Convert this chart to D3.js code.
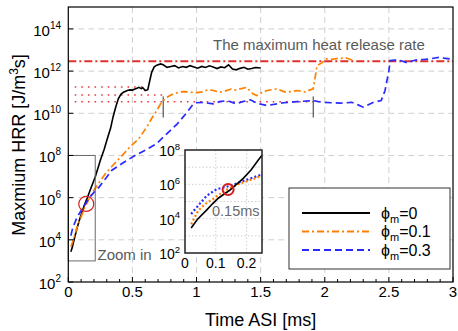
<!DOCTYPE html>
<html><head><meta charset="utf-8">
<script src="https://cdn.jsdelivr.net/npm/d3@7"></script>
<style>body{margin:0;background:#fff}svg{display:block;font-family:"Liberation Sans",Arial,Helvetica,sans-serif}</style>
</head><body><svg id="c" width="458" height="331"></svg>
<script>
// ---- data (time in ms, HRR given as log10 exponent) ----
const xTicks = [0, 0.5, 1, 1.5, 2, 2.5, 3];
const yTickExp = [2, 4, 6, 8, 10, 12, 14];
const legendValues = ["0", "0.1", "0.3"];
const seriesColors = ["#000000", "#ff8000", "#2a2aff"];
const blackData = [[0.02,3.43],[0.03,3.62],[0.05,4.12],[0.07,4.6],[0.09,5.0],[0.11,5.38],[0.13,5.72],[0.15,6.02],[0.17,6.35],[0.21,6.98],[0.25,7.77],[0.28,8.3],[0.3,8.71],[0.33,9.3],[0.35,9.85],[0.37,10.3],[0.39,10.69],[0.41,10.9],[0.43,11.0],[0.46,11.08],[0.48,11.11],[0.5,11.1],[0.52,11.15],[0.54,11.2],[0.55,11.23],[0.57,11.17],[0.58,11.22],[0.6,11.08],[0.62,11.12],[0.63,11.4],[0.65,11.94],[0.67,12.2],[0.69,12.28],[0.72,12.34],[0.74,12.3],[0.77,12.18],[0.8,12.22],[0.83,12.26],[0.86,12.15],[0.89,12.22],[0.92,12.18],[0.95,12.26],[0.98,12.2],[1.01,12.14],[1.04,12.22],[1.07,12.17],[1.1,12.25],[1.13,12.19],[1.16,12.12],[1.19,12.2],[1.22,12.16],[1.25,12.3],[1.28,12.1],[1.31,12.06],[1.34,12.13],[1.37,12.18],[1.4,12.09],[1.43,12.12],[1.46,12.17],[1.5,12.15]];
const orangeData = [[0.02,3.67],[0.04,4.0],[0.065,4.55],[0.09,4.93],[0.13,5.56],[0.16,5.92],[0.2,6.35],[0.25,6.8],[0.29,7.14],[0.35,7.55],[0.42,8.0],[0.48,8.4],[0.51,8.57],[0.55,8.8],[0.61,9.33],[0.65,9.75],[0.69,10.13],[0.72,10.45],[0.74,10.6],[0.78,10.8],[0.82,10.92],[0.86,11.0],[0.9,11.03],[0.95,11.0],[1.0,10.98],[1.05,11.02],[1.09,11.12],[1.13,11.08],[1.18,11.0],[1.22,11.05],[1.27,11.15],[1.3,11.1],[1.34,11.16],[1.39,11.23],[1.42,11.05],[1.44,10.92],[1.47,10.84],[1.51,10.98],[1.55,11.08],[1.59,11.12],[1.63,11.16],[1.67,11.05],[1.7,11.0],[1.74,11.03],[1.78,11.08],[1.82,11.04],[1.85,11.0],[1.88,11.1],[1.91,11.16],[1.925,11.7],[1.94,12.26],[1.98,12.4],[2.01,12.58],[2.06,12.56],[2.1,12.6],[2.17,12.62],[2.22,12.5]];
const blueData = [[0.02,4.2],[0.03,4.46],[0.05,4.8],[0.07,5.09],[0.11,5.48],[0.16,5.96],[0.2,6.25],[0.24,6.5],[0.29,6.9],[0.34,7.3],[0.39,7.5],[0.44,7.7],[0.52,8.0],[0.6,8.25],[0.69,8.57],[0.77,9.04],[0.85,9.5],[0.92,10.0],[0.97,10.4],[1.0,10.5],[1.05,10.52],[1.09,10.48],[1.13,10.45],[1.18,10.55],[1.24,10.6],[1.31,10.45],[1.36,10.55],[1.42,10.64],[1.47,10.48],[1.51,10.42],[1.55,10.37],[1.63,10.45],[1.68,10.5],[1.73,10.52],[1.78,10.55],[1.83,10.57],[1.91,10.6],[1.95,10.55],[1.99,10.52],[2.05,10.5],[2.12,10.48],[2.17,10.5],[2.21,10.52],[2.26,10.4],[2.3,10.29],[2.34,10.4],[2.38,10.52],[2.44,10.6],[2.47,11.08],[2.5,12.02],[2.51,12.5],[2.55,12.52],[2.59,12.5],[2.65,12.38],[2.68,12.48],[2.72,12.53],[2.77,12.55],[2.82,12.58],[2.86,12.62],[2.9,12.66],[2.94,12.6],[2.98,12.58],[3.0,12.6]];
// inset (zoom on 0-0.25 ms)
const insetXTicks = [0, 0.1, 0.2];
const insetYTickExp = [2, 4, 6, 8];
const insetBlack = [[0.02,3.46],[0.04,3.95],[0.07,4.5],[0.09,4.88],[0.108,5.19],[0.146,5.67],[0.19,6.36],[0.215,6.85],[0.238,7.42],[0.25,7.7]];
const insetOrange = [[0.02,3.67],[0.043,4.47],[0.065,4.85],[0.092,5.16],[0.13,5.66],[0.179,6.05],[0.222,6.31],[0.25,6.5]];
const insetBlue = [[0.02,4.27],[0.038,4.66],[0.07,5.33],[0.103,5.72],[0.146,5.91],[0.19,6.2],[0.25,6.58]];
// annotations
const maxHRRExp = 12.47;               // maximum heat release rate level
const plateauLevels = [[0.05,0.58,11.25],[0.05,0.74,10.87],[0.05,1.91,10.55]]; // [t0,t1,exp]
const markerTimes = [0.74, 1.91];
const markerRange = [9.8, 10.8];
const crossPoint = [0.14, 5.7];
const zoomBox = [0, 0.21, 3, 8];        // t0,t1,exp0,exp1

const P = v => Math.pow(10, v);
const svg = d3.select("#c");
const m = {l: 68.3, r: 453, t: 7, b: 282};
const x = d3.scaleLinear().domain([0, 3]).range([m.l, m.r]);
const y = d3.scaleLog().domain([1e2, P(15.04)]).range([m.b, m.t]);

// grid
const g = svg.append("g");
g.selectAll(".vg").data(xTicks.filter(t => t > 0 && t < 3)).join("line")
  .attr("x1", d => x(d)).attr("x2", d => x(d)).attr("y1", m.t).attr("y2", m.b)
  .attr("stroke", "#cfcfcf").attr("stroke-dasharray", "6,4");
g.selectAll(".hg").data(yTickExp.filter(e => e > 2)).join("line")
  .attr("x1", m.l).attr("x2", m.r).attr("y1", d => y(P(d))).attr("y2", d => y(P(d)))
  .attr("stroke", "#cfcfcf").attr("stroke-dasharray", "6,4");

// red dotted plateau lines
svg.selectAll(".pl").data(plateauLevels).join("line")
  .attr("x1", d => x(d[0])).attr("x2", d => x(d[1])).attr("y1", d => y(P(d[2]))).attr("y2", d => y(P(d[2])))
  .attr("stroke", "#e83a3a").attr("stroke-width", 1.6).attr("stroke-dasharray", "1.6,5");
// markers
svg.selectAll(".mk").data(markerTimes).join("line")
  .attr("x1", d => x(d)).attr("x2", d => x(d)).attr("y1", y(P(markerRange[0]))).attr("y2", y(P(markerRange[1])))
  .attr("stroke", "#333").attr("stroke-width", 1);
// max HRR line
svg.append("line").attr("x1", m.l).attr("x2", m.r).attr("y1", y(P(maxHRRExp))).attr("y2", y(P(maxHRRExp)))
  .attr("stroke", "#e0302a").attr("stroke-width", 2).attr("stroke-dasharray", "8,3,2,3");
svg.append("text").attr("x", 213).attr("y", 49.5).attr("font-size", 15).attr("fill", "#5a5a5a")
  .text("The maximum heat release rate");

// curves
const line = d3.line().x(d => x(d[0])).y(d => y(P(d[1])));
const styles = [
  {data: blackData, c: seriesColors[0], dash: null, w: 1.6},
  {data: orangeData, c: seriesColors[1], dash: "7,3,2,3", w: 1.7},
  {data: blueData, c: seriesColors[2], dash: "7,4", w: 1.7}
];
styles.forEach(s => {
  svg.append("path").datum(s.data).attr("d", line).attr("fill", "none")
    .attr("stroke", s.c).attr("stroke-width", s.w).attr("stroke-dasharray", s.dash);
});

// zoom box
svg.append("rect").attr("x", x(zoomBox[0])).attr("y", y(P(zoomBox[3])))
  .attr("width", x(zoomBox[1]) - x(zoomBox[0])).attr("height", y(P(zoomBox[2])) - y(P(zoomBox[3])))
  .attr("fill", "none").attr("stroke", "#6a6a6a").attr("stroke-width", 1);
svg.append("text").attr("x", 97.5).attr("y", 260).attr("font-size", 15).attr("fill", "#5a5a5a").text("Zoom in");
svg.append("circle").attr("cx", x(crossPoint[0])).attr("cy", y(P(crossPoint[1]))).attr("r", 7.5)
  .attr("fill", "none").attr("stroke", "#d62020").attr("stroke-width", 1.2);

// axes box
svg.append("rect").attr("x", m.l).attr("y", m.t).attr("width", m.r - m.l).attr("height", m.b - m.t)
  .attr("fill", "none").attr("stroke", "#000").attr("stroke-width", 1.2);
// ticks
const minorX = d3.range(1, 30).map(i => i / 10).filter(t => Math.abs(t * 2 - Math.round(t * 2)) > 1e-6);
svg.selectAll(".xt").data(xTicks).join("line").attr("x1", d => x(d)).attr("x2", d => x(d))
  .attr("y1", m.b).attr("y2", m.b - 5).attr("stroke", "#000");
svg.selectAll(".xmt").data(minorX).join("line").attr("x1", d => x(d)).attr("x2", d => x(d))
  .attr("y1", m.b).attr("y2", m.b - 3).attr("stroke", "#000");
svg.selectAll(".yt").data(yTickExp).join("line").attr("x1", m.l).attr("x2", m.l + 5)
  .attr("y1", d => y(P(d))).attr("y2", d => y(P(d))).attr("stroke", "#000");
svg.selectAll(".xl").data(xTicks).join("text").attr("x", d => x(d)).attr("y", 297)
  .attr("text-anchor", "middle").attr("font-size", 15).text(d => d3.format("~g")(d));
const yl = svg.selectAll(".yl").data(yTickExp).join("text").attr("x", 61).attr("y", d => y(P(d)) + 7)
  .attr("text-anchor", "end").attr("font-size", 15);
yl.append("tspan").text("10");
yl.append("tspan").attr("dy", -7).attr("font-size", 10).text(d => d);

// axis titles
svg.append("text").attr("x", (m.l + m.r) / 2).attr("y", 326).attr("text-anchor", "middle")
  .attr("font-size", 18).text("Time ASI [ms]");
const yt = svg.append("text").attr("transform", "translate(25,145) rotate(-90)").attr("text-anchor", "middle")
  .attr("font-size", 18);
yt.append("tspan").text("Maxmium HRR [J/m");
yt.append("tspan").attr("dy", -7).attr("font-size", 12).text("3");
yt.append("tspan").attr("dy", 7).text("s]");

// legend
const lg = svg.append("g");
lg.append("rect").attr("x", 289).attr("y", 188).attr("width", 161).attr("height", 81)
  .attr("fill", "#fff").attr("stroke", "#333").attr("stroke-width", 1);
styles.forEach((s, i) => {
  const yy = 213 + i * 18.5;
  lg.append("line").attr("x1", 302).attr("x2", 370).attr("y1", yy).attr("y2", yy)
    .attr("stroke", s.c).attr("stroke-width", 1.8).attr("stroke-dasharray", s.dash);
  const t = lg.append("text").attr("x", 381).attr("y", yy + 5.5).attr("font-size", 16);
  t.append("tspan").text("ϕ");
  t.append("tspan").attr("dy", 4).attr("font-size", 11).text("m");
  t.append("tspan").attr("dy", -4).text("=" + legendValues[i]);
});

// inset
const ix = d3.scaleLinear().domain([0, 0.25]).range([185, 262]);
const iy = d3.scaleLog().domain([1e2, 1e8]).range([253, 150]);
const ig = svg.append("g");
ig.append("rect").attr("x", 185).attr("y", 150).attr("width", 77).attr("height", 103).attr("fill", "#fff");
ig.selectAll(".ivg").data([0.1, 0.2]).join("line").attr("x1", d => ix(d)).attr("x2", d => ix(d))
  .attr("y1", 150).attr("y2", 253).attr("stroke", "#cfcfcf").attr("stroke-dasharray", "1.5,2");
ig.selectAll(".ihg").data([3, 4, 5, 6, 7]).join("line").attr("x1", 185).attr("x2", 262)
  .attr("y1", d => iy(P(d))).attr("y2", d => iy(P(d))).attr("stroke", "#cfcfcf").attr("stroke-dasharray", "1.5,2");
svg.append("clipPath").attr("id", "ic").append("rect").attr("x", 185).attr("y", 150).attr("width", 77).attr("height", 103);
const iline = d3.line().x(d => ix(d[0])).y(d => iy(P(d[1])));
const ip = ig.append("g").attr("clip-path", "url(#ic)");
ip.append("path").datum(insetBlue).attr("d", iline).attr("fill", "none").attr("stroke", seriesColors[2])
  .attr("stroke-width", 2.2).attr("stroke-dasharray", "2,2.2");
ip.append("path").datum(insetOrange).attr("d", iline).attr("fill", "none").attr("stroke", seriesColors[1])
  .attr("stroke-width", 2.2).attr("stroke-dasharray", "2,2.2");
ip.append("path").datum(insetBlack).attr("d", iline).attr("fill", "none").attr("stroke", seriesColors[0])
  .attr("stroke-width", 1.6);
ig.append("circle").attr("cx", ix(crossPoint[0])).attr("cy", iy(P(crossPoint[1]))).attr("r", 5.5)
  .attr("fill", "none").attr("stroke", "#d62020").attr("stroke-width", 2);
ig.append("text").attr("x", 212).attr("y", 216).attr("font-size", 14.5).attr("fill", "#6a6a6a").text("0.15ms");
ig.append("rect").attr("x", 185).attr("y", 150).attr("width", 77).attr("height", 103)
  .attr("fill", "none").attr("stroke", "#222").attr("stroke-width", 1.5);
ig.selectAll(".ixl").data(insetXTicks).join("text").attr("x", d => ix(d)).attr("y", 268)
  .attr("text-anchor", "middle").attr("font-size", 14).text(d => d3.format("~g")(d));
const iyl = ig.selectAll(".iyl").data(insetYTickExp).join("text").attr("x", 180).attr("y", d => iy(P(d)) + 6)
  .attr("text-anchor", "end").attr("font-size", 14);
iyl.append("tspan").text("10");
iyl.append("tspan").attr("dy", -6.5).attr("font-size", 9.5).text(d => d);
</script></body></html>
